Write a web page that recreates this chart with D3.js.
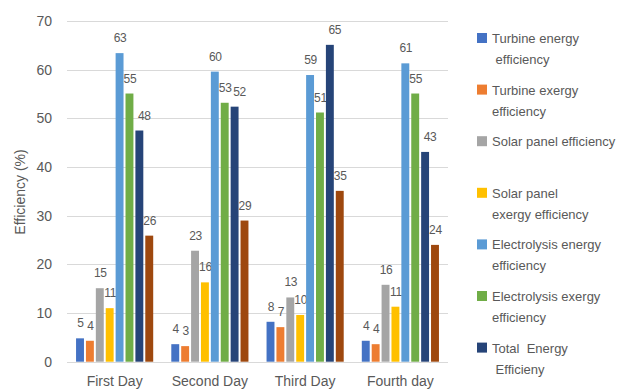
<!DOCTYPE html>
<html>
<head>
<meta charset="utf-8">
<script src="https://cdn.jsdelivr.net/npm/d3@7"></script>
<style>
  html, body { margin: 0; padding: 0; background: #fff; }
  svg { display: block; font-family: "Liberation Sans", Arial, sans-serif; }
</style>
</head>
<body>
<div id="chart"></div>
<script>
// Données
const days = ["First Day", "Second Day", "Third Day", "Fourth day"];
const seriesNames = [
  "Turbine energy efficiency",
  "Turbine exergy efficiency",
  "Solar panel efficiency",
  "Solar panel exergy efficiency",
  "Electrolysis energy efficiency",
  "Electrolysis exergy efficiency",
  "Total Energy Efficieny",
  "Total Exergy Efficiency"
];
// lignes de la légende (la dernière série n'y apparaît pas)
const legendLines = [
  ["Turbine energy", " efficiency"],
  ["Turbine exergy", "efficiency"],
  ["Solar panel efficiency"],
  ["Solar panel", "exergy efficiency"],
  ["Electrolysis energy", "efficiency"],
  ["Electrolysis exergy", "efficiency"],
  ["Total  Energy", " Efficieny"]
];
const colors = ["#4472C4", "#ED7D31", "#A5A5A5", "#FFC000", "#5B9BD5", "#70AD47", "#264478", "#9E480E"];

const turbineEnergy = [4.8, 3.6, 8.2, 4.3];
const turbineExergy = [4.3, 3.2, 7.1, 3.6];
const solarPanel = [15.1, 22.8, 13.2, 15.8];
const solarExergy = [11.0, 16.3, 9.6, 11.3];
const electroEnergy = [63.4, 59.6, 58.9, 61.3];
const electroExergy = [55.1, 53.2, 51.2, 55.1];
const totalEnergy = [47.5, 52.4, 65.1, 43.1];
const totalExergy = [25.9, 29.0, 35.1, 24.0];

const allSeries = [turbineEnergy, turbineExergy, solarPanel, solarExergy,
                   electroEnergy, electroExergy, totalEnergy, totalExergy];
const yTicks = [0, 10, 20, 30, 40, 50, 60, 70];

const width = 638, height = 389;
const margin = { top: 21, right: 190, bottom: 27.3, left: 67 };
const textColor = "#595959";

const svg = d3.select("#chart").append("svg")
  .attr("width", width)
  .attr("height", height);

const x0 = d3.scaleBand()
  .domain(days)
  .range([margin.left, width - margin.right])
  .paddingInner(0.19)
  .paddingOuter(0.095);

const x1 = d3.scaleBand()
  .domain(d3.range(allSeries.length))
  .range([0, x0.bandwidth()])
  .paddingInner(0.2);

const y = d3.scaleLinear()
  .domain([0, 70])
  .range([height - margin.bottom, margin.top]);

// Quadrillage
svg.append("g")
  .selectAll("line")
  .data(yTicks)
  .join("line")
  .attr("x1", margin.left)
  .attr("x2", width - margin.right)
  .attr("y1", d => Math.round(y(d)) + 0.5)
  .attr("y2", d => Math.round(y(d)) + 0.5)
  .attr("stroke", "#d9d9d9")
  .attr("stroke-width", 1);

// Axe Y (sans ligne)
const yAxis = svg.append("g")
  .attr("transform", `translate(${margin.left - 15},0)`)
  .call(d3.axisLeft(y).tickValues(yTicks).tickSize(0).tickPadding(0));
yAxis.select(".domain").remove();
yAxis.selectAll("text")
  .style("font-size", "14px")
  .style("fill", textColor);

// Barres
const groups = svg.append("g")
  .selectAll("g")
  .data(days)
  .join("g")
  .attr("transform", d => `translate(${x0(d)},0)`);

const cells = groups.selectAll("g")
  .data((d, i) => allSeries.map((s, k) => ({ k, v: s[i] })))
  .join("g");

cells.append("rect")
  .attr("x", d => x1(d.k))
  .attr("y", d => y(d.v))
  .attr("width", x1.bandwidth())
  .attr("height", d => y(0) - y(d.v))
  .attr("fill", d => colors[d.k]);

// étiquettes : la série "Total Energy" est un peu décalée à droite, comme dans Excel
cells.append("text")
  .attr("x", d => x1(d.k) + x1.bandwidth() / 2 + (d.k === 6 ? 5 : 0.5))
  .attr("y", d => y(d.v) - 11)
  .attr("text-anchor", "middle")
  .style("font-size", "12px")
  .style("letter-spacing", "-0.3px")
  .style("fill", textColor)
  .text(d => Math.round(d.v));

// Axe X (libellés seulement)
const xAxis = svg.append("g")
  .attr("transform", `translate(0,${height - margin.bottom})`)
  .call(d3.axisBottom(x0).tickSize(0).tickPadding(14));
xAxis.select(".domain").remove();
xAxis.selectAll("text")
  .style("font-size", "14px")
  .style("fill", textColor);

// Titre axe Y
svg.append("text")
  .attr("transform", "rotate(-90)")
  .attr("x", -192)
  .attr("y", 25)
  .attr("text-anchor", "middle")
  .style("font-size", "14px")
  .style("fill", textColor)
  .text("Efficiency (%)");

// Légende
const legend = svg.append("g")
  .selectAll("g")
  .data(legendLines)
  .join("g")
  .attr("transform", (d, i) => `translate(477,${38 + i * 51.6})`);

legend.append("rect")
  .attr("x", 0)
  .attr("y", -5)
  .attr("width", 10)
  .attr("height", 10)
  .attr("fill", (d, i) => colors[i]);

legend.append("text")
  .style("font-size", "13px")
  .style("fill", textColor)
  .selectAll("tspan")
  .data(d => d)
  .join("tspan")
  .attr("x", 15)
  .attr("y", (d, j) => 5 + j * 21)
  .style("white-space", "pre")
  .text(d => d);
</script>
</body>
</html>
